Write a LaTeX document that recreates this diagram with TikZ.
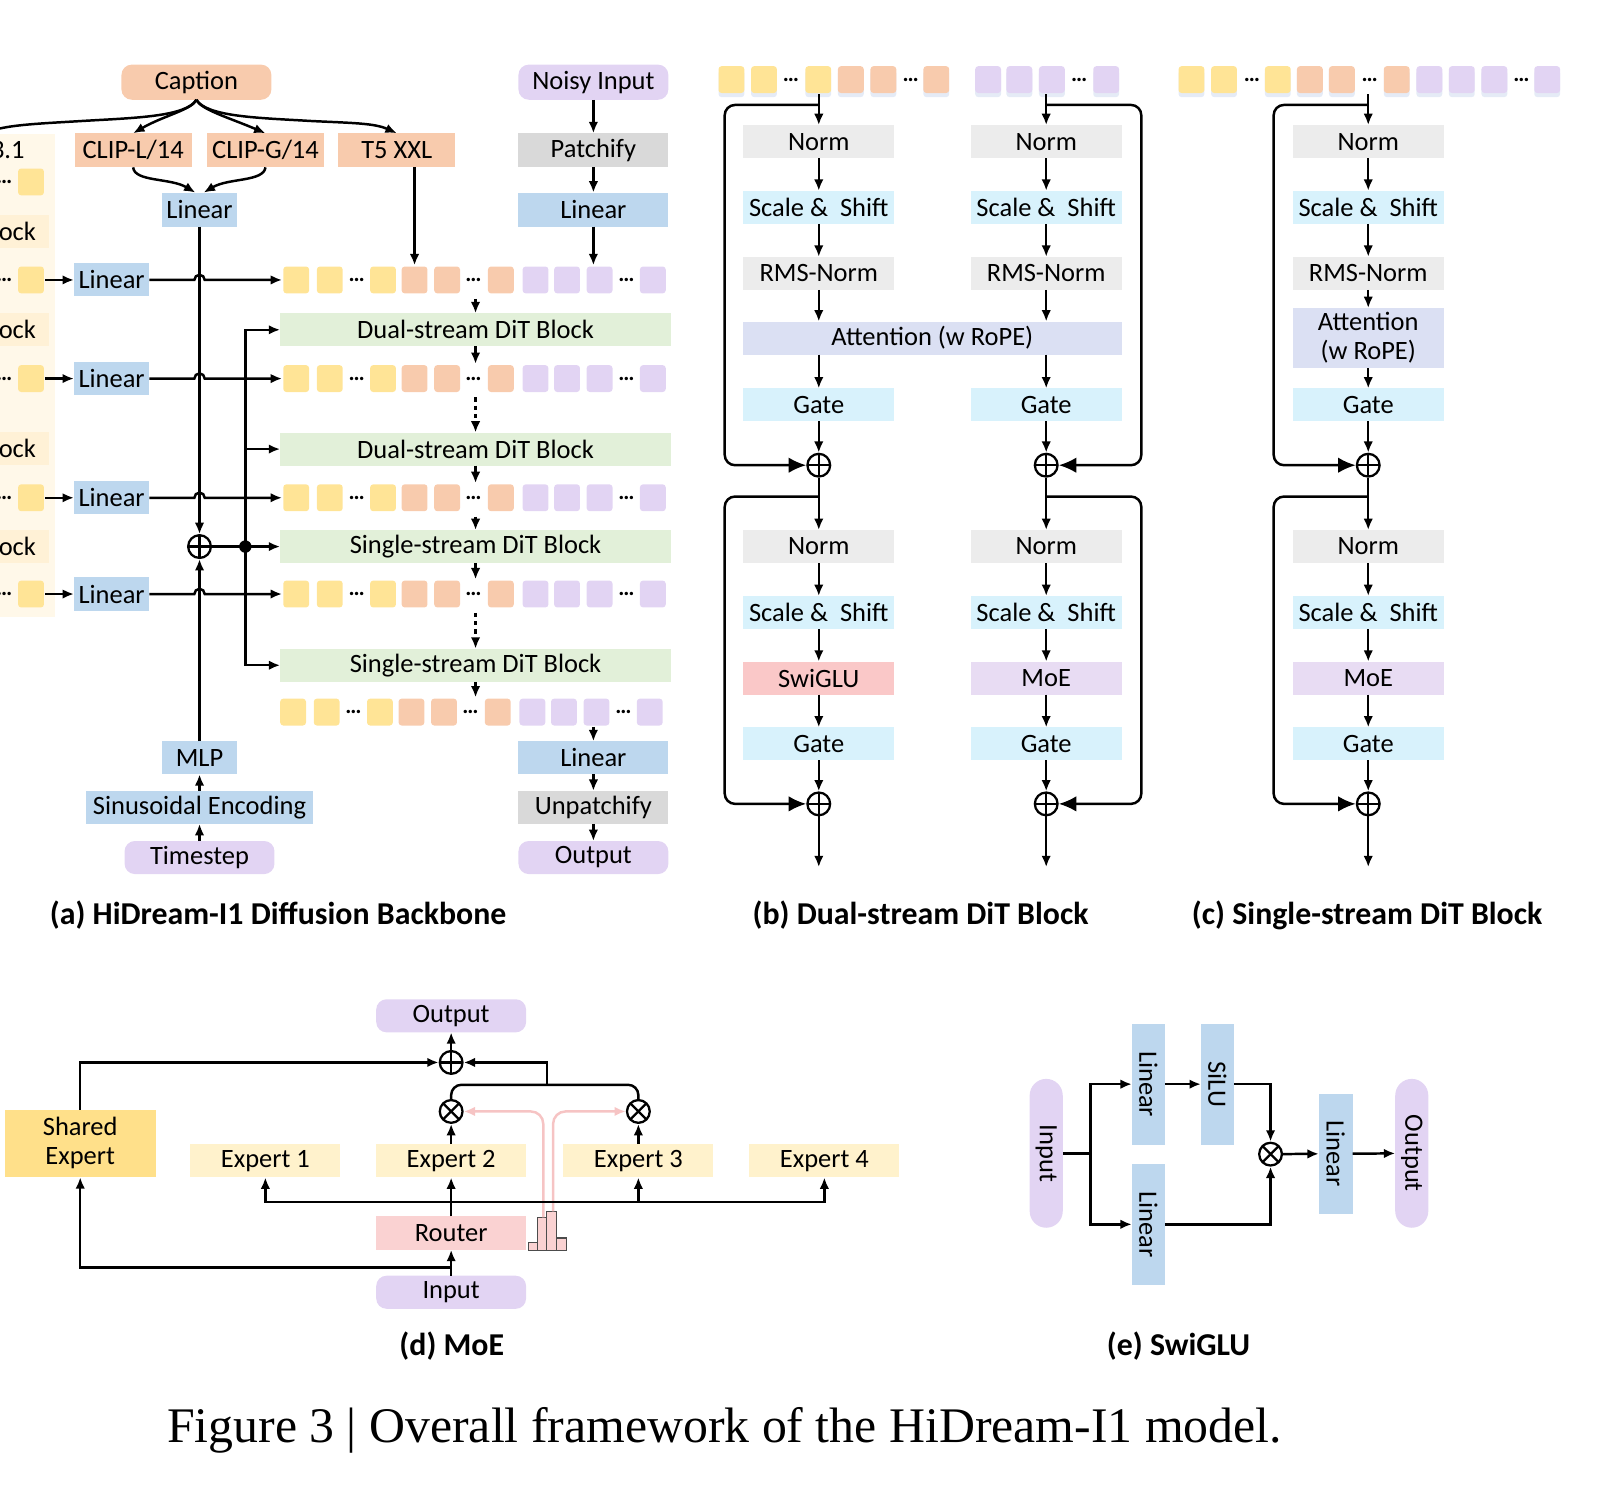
\documentclass[tikz,border=0pt]{standalone}
\usepackage{fontspec}
\usepackage{graphicx}
\setmainfont{Carlito}
\newfontfamily\capfont{Liberation Serif}
\usetikzlibrary{arrows.meta,calc,shadows}
\definecolor{cPeach}{RGB}{248,203,173}
\definecolor{cLav}{RGB}{226,212,243}
\definecolor{cBlue}{RGB}{189,215,238}
\definecolor{cGray}{RGB}{217,217,217}
\definecolor{cGreen}{RGB}{226,240,217}
\definecolor{cYel}{RGB}{255,228,150}
\definecolor{cNorm}{RGB}{236,236,236}
\definecolor{cCyan}{RGB}{216,242,252}
\definecolor{cAttn}{RGB}{219,224,243}
\definecolor{cSwi}{RGB}{250,200,200}
\definecolor{cMoe}{RGB}{232,220,243}
\definecolor{cShared}{RGB}{255,224,138}
\definecolor{cExp}{RGB}{255,242,204}
\definecolor{cRouter}{RGB}{250,210,210}
\definecolor{cCream}{RGB}{255,248,233}
\definecolor{cCreamB}{RGB}{255,241,214}
\definecolor{cPinkLine}{RGB}{246,196,196}
\definecolor{cShadow}{RGB}{170,190,225}
\newcommand{\lbl}{\fontsize{12.8}{14}\selectfont}
\newcommand{\subcap}{\fontsize{15.4}{17}\selectfont\bfseries}
\newcommand{\dotfont}{\fontsize{11}{11}\selectfont\bfseries}
\tikzset{
  >={Latex[length=5.5pt,width=4.6pt]},
  big/.style={-{Latex[length=8.5pt,width=7.5pt]}},
  bx/.style={rectangle, inner sep=0pt, outer sep=0pt, font=\lbl, text=black, align=center},
  sz/.style 2 args={minimum width=#1*0.5pt, minimum height=#2*0.5pt},
  pill/.style={bx, rounded corners=5pt},
  pillv/.style={bx, rounded corners=8pt},
  tok/.style={rectangle, rounded corners=1.5pt, minimum width=12.5pt, minimum height=13pt, inner sep=0pt},
  tokS/.style={tok, drop shadow={shadow xshift=0pt, shadow yshift=-2pt, opacity=0.3, fill=cShadow}},
  tdots/.style={font=\dotfont, inner sep=0pt},
  oplus/.style={circle, draw, line width=1.1pt, minimum size=11pt, inner sep=0pt, fill=white,
    path picture={\draw[line width=1.1pt] (path picture bounding box.north) -- (path picture bounding box.south) (path picture bounding box.west) -- (path picture bounding box.east);}},
  otimes/.style={circle, draw, line width=1.1pt, minimum size=11pt, inner sep=0pt, fill=white,
    path picture={\draw[line width=1.1pt] (path picture bounding box.north west) -- (path picture bounding box.south east) (path picture bounding box.south west) -- (path picture bounding box.north east);}},
}
% token row of panel (a)
\newcommand{\tokrowA}[2]{%
  \foreach \xx/\cc [count=\ii] in {286.5/cYel,319/cYel,370.5/cYel,401/cPeach,432.5/cPeach,484.5/cPeach,518/cLav,548.5/cLav,580/cLav,631.5/cLav}
    {\node[tok, fill=\cc] (#1-\ii) at (\xx,#2) {};}
  \foreach \xx in {345,458,606} {\node[tdots] at (\xx,#2) {…};}
}
\begin{document}
\begin{tikzpicture}[x=0.5pt,y=-0.5pt,line width=1.2pt]
\useasboundingbox (0,0) rectangle (1568,1449);
\clip (0,0) rectangle (1568,1449);

% ================= left cut-off panel =================
\fill[cCream] (-80,130) rectangle (53,597);
\node[font=\lbl, anchor=east, inner sep=0pt] (llama) at (25,145) {Llama 3.1};
\foreach \yy/\nm in {224/lb1,319/lb2,434/lb3,528.7/lb4} {
  \node[bx, fill=cCreamB, anchor=east, minimum height=16pt, minimum width=60pt] (\nm) at (47,\yy) {};
  \node[font=\lbl, anchor=east, inner sep=0pt] at (36,\yy) {Block};
}
\foreach \yy [count=\ii] in {176,270.8,366.2,481.5,574.6} {
  \node[tok, fill=cYel] (lt\ii) at (30,\yy) {};
  \node[tdots, anchor=east] at (13,\yy) {…};
}

% ================= panel (a) =================
\node[pill, fill=cPeach, sz={145}{34}] (cap) at (190,79.5) {Caption};
\node[pill, fill=cLav, sz={145}{34}] (noisy) at (574,79.5) {Noisy Input};
\node[bx, fill=cPeach, sz={113}{33}] (clipl) at (128.8,145.4) {CLIP-L/14};
\node[bx, fill=cPeach, sz={113}{33}] (clipg) at (256.8,145.4) {CLIP-G/14};
\node[bx, fill=cPeach, sz={113}{33}] (t5) at (383.8,145.4) {T5 XXL};
\node[bx, fill=cGray, sz={145}{33}] (patch) at (574,145.4) {Patchify};
\node[bx, fill=cBlue, sz={72}{33}] (linc) at (193,202.8) {Linear};
\node[bx, fill=cBlue, sz={145}{33}] (linx) at (574,202.8) {Linear};

\node[bx, fill=cGreen, sz={378}{32}] (d1) at (460,319) {Dual-stream DiT Block};
\node[bx, fill=cGreen, sz={378}{32}] (d2) at (460,434.4) {Dual-stream DiT Block};
\node[bx, fill=cGreen, sz={378}{32}] (s1) at (460,528.7) {Single-stream DiT Block};
\node[bx, fill=cGreen, sz={378}{32}] (s2) at (460,643.5) {Single-stream DiT Block};

\tokrowA{r1}{270.8}
\tokrowA{r2}{366.2}
\tokrowA{r3}{481.5}
\tokrowA{r4}{574.6}
\begin{scope}[xshift=-1.5pt]\tokrowA{r5}{688.8}\end{scope}

\foreach \yy [count=\ii] in {270.8,366.2,481.5,574.6}
  \node[bx, fill=cBlue, sz={73}{32}] (l\ii) at (108,\yy) {Linear};

\node[oplus] (ap) at (193,528.7) {};
\node[circle, fill=black, inner sep=0pt, minimum size=6pt] (dot) at (237.3,528.7) {};
\node[bx, fill=cBlue, sz={72}{32}] (mlp) at (193,733) {MLP};
\node[bx, fill=cBlue, sz={219}{32}] (sinus) at (193,781) {Sinusoidal Encoding};
\node[pill, fill=cLav, sz={145}{32}] (tstep) at (193,829.5) {Timestep};
\node[bx, fill=cBlue, sz={145}{32}] (lino) at (574,733) {Linear};
\node[bx, fill=cGray, sz={145}{32}] (unp) at (574,781) {Unpatchify};
\node[pill, fill=cLav, sz={145}{32}] (aout) at (574,829.5) {Output};

% caption fan
\draw[->] (cap.south) .. controls (186,106) and (158,112) .. (clipl.north);
\draw[->] (cap.south) .. controls (194,106) and (222,114) .. (clipg.north);
\draw[->] (cap.south) .. controls (200,113) and (250,114) .. (300,117) .. controls (340,119) and (362,119) .. (t5.north);
\draw[->] (cap.south) .. controls (180,113) and (130,114) .. (80,117) .. controls (30,120) and (0,121) .. (llama.north);
\draw[->] (clipl.south) .. controls (130,176) and (165,172) .. ([xshift=-2pt]linc.north);
\draw[->] (clipg.south) .. controls (255,176) and (221,172) .. ([xshift=2pt]linc.north);
\draw[->] (t5.south -| r1-4.north) -- (r1-4.north);
\draw[->] (noisy) -- (patch);
\draw[->] (patch) -- (linx);
\draw[->] (linx.south) -- (linx.south |- r1-9.north);

% left inputs
\foreach \ii/\jj in {1/2,2/3,3/4,4/5}
  \draw[->] (lt\jj.east) -- (l\ii.west);
\foreach \ii/\rr in {1/r1,2/r2,3/r3,4/r4}
  \draw[->] (l\ii.east) -- ($(ap.center |- l\ii.east)+(-2.5pt,0)$) arc[start angle=180,end angle=0,radius=2.5pt] -- (\rr-1.west);

% timestep / text vertical
\draw[->] (linc.south) -- (ap.north);
\draw[->] (mlp.north) -- (ap.south);
\draw[->] (sinus.north) -- (mlp.south);
\draw[->] (tstep.north) -- (sinus.south);
\draw[->] (ap.east) -- (s1.west);
\draw[<->] (d1.west) -- (d1.west -| dot) -- (s2.west -| dot) -- (s2.west);
\draw[->] (d2.west -| dot) -- (d2.west);

% main stream
\draw[->, shorten <=2pt] (d1.north |- r1-1.south) -- (d1.north);
\draw[->] (d1.south) -- (d1.south |- r2-1.north);
\draw[->, shorten <=2pt, dash pattern=on 2pt off 2pt] (d1.north |- r2-1.south) -- (d2.north);
\draw[->] (d2.south) -- (d2.south |- r3-1.north);
\draw[->, shorten <=2pt] (s1.north |- r3-1.south) -- (s1.north);
\draw[->] (s1.south) -- (s1.south |- r4-1.north);
\draw[->, shorten <=2pt, dash pattern=on 2pt off 2pt] (s1.north |- r4-1.south) -- (s2.north);
\draw[->] (s2.south) -- (s2.south |- r5-1.north);
\draw[->] (lino.north |- r5-9.south) -- (lino.north);
\draw[->] (lino) -- (unp);
\draw[->] (unp) -- (aout);

% ================= panel (b) =================
\foreach \xx/\cc [count=\ii] in {707.5/cYel,739/cYel,791.5/cYel,823/cPeach,854.5/cPeach,905.7/cPeach,955.8/cLav,986/cLav,1017.5/cLav,1070/cLav}
  {\node[tokS, fill=\cc] (bt-\ii) at (\xx,77) {};}
\foreach \xx in {765,881,1044} {\node[tdots] at (\xx,77) {…};}

\foreach \cx/\nm in {792/b1,1012/b2} {
  \node[bx, fill=cNorm, sz={146}{32}] (\nm n) at (\cx,137) {Norm};
  \node[bx, fill=cCyan, sz={146}{32}] (\nm s) at (\cx,200.5) {Scale \&~ Shift};
  \node[bx, fill=cNorm, sz={146}{32}] (\nm r) at (\cx,264.4) {RMS-Norm};
  \node[bx, fill=cCyan, sz={146}{32}] (\nm g) at (\cx,391.7) {Gate};
  \node[oplus] (\nm p) at (\cx,450) {};
  \node[bx, fill=cNorm, sz={146}{32}] (\nm n2) at (\cx,528.7) {Norm};
  \node[bx, fill=cCyan, sz={146}{32}] (\nm s2) at (\cx,592.5) {Scale \&~ Shift};
  \node[bx, fill=cCyan, sz={146}{32}] (\nm g2) at (\cx,719.6) {Gate};
  \node[oplus] (\nm p2) at (\cx,777.6) {};
  \coordinate (\nm end) at (\cx,838.8);
  \coordinate (\nm ta) at (\cx,101.5);
  \coordinate (\nm tb) at (\cx,480.3);
}
\node[bx, fill=cAttn, sz={366.4}{32}] (battn) at (901.8,327) {Attention (w RoPE)};
\node[bx, fill=cSwi, sz={146}{32}] (b1f) at (792,656) {SwiGLU};
\node[bx, fill=cMoe, sz={146}{32}] (b2f) at (1012,656) {MoE};

\draw[->] (b1n.north |- bt-3.south) -- (b1n.north);
\draw[->] (b2n.north |- bt-9.south) -- (b2n.north);
\foreach \nm in {b1,b2} {
  \draw[->] (\nm n) -- (\nm s);
  \draw[->] (\nm s) -- (\nm r);
  \draw[->] (\nm r.south) -- (\nm r.south |- battn.north);
  \draw[->] (battn.south -| \nm g) -- (\nm g.north);
  \draw[->] (\nm g) -- (\nm p);
  \draw[->] (\nm p) -- (\nm n2);
  \draw[->] (\nm n2) -- (\nm s2);
  \draw[->] (\nm s2) -- (\nm f);
  \draw[->] (\nm f) -- (\nm g2);
  \draw[->] (\nm g2) -- (\nm p2);
  \draw[->] (\nm p2.south) -- (\nm end);
}
\draw[big, rounded corners=5pt] (b1ta) -- (701,101.5) -- (701,450) -- (b1p.west);
\draw[big, rounded corners=5pt] (b1tb) -- (701,480.3) -- (701,777.6) -- (b1p2.west);
\draw[big, rounded corners=5pt] (b2ta) -- (1104,101.5) -- (1104,450) -- (b2p.east);
\draw[big, rounded corners=5pt] (b2tb) -- (1104,480.3) -- (1104,777.6) -- (b2p2.east);

% ================= panel (c) =================
\foreach \xx/\cc [count=\ii] in {1152.5/cYel,1184/cYel,1236/cYel,1267/cPeach,1298/cPeach,1351/cPeach,1382.6/cLav,1414/cLav,1445.5/cLav,1496.6/cLav}
  {\node[tokS, fill=\cc] (ct-\ii) at (\xx,77) {};}
\foreach \xx in {1211,1325,1471.6} {\node[tdots] at (\xx,77) {…};}
\node[bx, fill=cNorm, sz={146}{32}] (cn) at (1323.5,137) {Norm};
\node[bx, fill=cCyan, sz={146}{32}] (cs) at (1323.5,200.5) {Scale \&~ Shift};
\node[bx, fill=cNorm, sz={146}{32}] (cr) at (1323.5,264.4) {RMS-Norm};
\node[bx, fill=cAttn, sz={146}{58}] (ca) at (1323.5,327) {Attention\\(w RoPE)};
\node[bx, fill=cCyan, sz={146}{32}] (cg) at (1323.5,391.7) {Gate};
\node[oplus] (cp) at (1323.5,450) {};
\node[bx, fill=cNorm, sz={146}{32}] (cn2) at (1323.5,528.7) {Norm};
\node[bx, fill=cCyan, sz={146}{32}] (cs2) at (1323.5,592.5) {Scale \&~ Shift};
\node[bx, fill=cMoe, sz={146}{32}] (cm) at (1323.5,656) {MoE};
\node[bx, fill=cCyan, sz={146}{32}] (cg2) at (1323.5,719.6) {Gate};
\node[oplus] (cp2) at (1323.5,777.6) {};
\coordinate (cend) at (1323.5,838.8);
\coordinate (cta) at (1323.5,101.5);
\coordinate (ctb) at (1323.5,480.3);
\draw[->] (cn.north |- ct-1.south) -- (cn.north);
\draw[->] (cn) -- (cs);
\draw[->] (cs) -- (cr);
\draw[->] (cr) -- (ca);
\draw[->] (ca) -- (cg);
\draw[->] (cg) -- (cp);
\draw[->] (cp) -- (cn2);
\draw[->] (cn2) -- (cs2);
\draw[->] (cs2) -- (cm);
\draw[->] (cm) -- (cg2);
\draw[->] (cg2) -- (cp2);
\draw[->] (cp2.south) -- (cend);
\draw[big, rounded corners=5pt] (cta) -- (1232,101.5) -- (1232,450) -- (cp.west);
\draw[big, rounded corners=5pt] (ctb) -- (1232,480.3) -- (1232,777.6) -- (cp2.west);

% sub captions
\node[font=\subcap] (capa) at (269,885) {(a) HiDream-I1 Diffusion Backbone};
\node[font=\subcap] (capb) at (890.5,885) {(b) Dual-stream DiT Block};
\node[font=\subcap] (capc) at (1322.5,885) {(c) Single-stream DiT Block};

% ================= panel (d) MoE =================
\node[pill, fill=cLav, sz={145}{32}] (mout) at (436.4,982.6) {Output};
\node[oplus] (mplus) at (436.4,1027.7) {};
\node[bx, fill=cShared, sz={146}{65.5}] (shared) at (77.6,1106) {Shared\\Expert};
\node[bx, fill=cExp, sz={145}{32.3}] (e1) at (256.7,1122.8) {Expert 1};
\node[bx, fill=cExp, sz={145}{32.3}] (e2) at (436.4,1122.8) {Expert 2};
\node[bx, fill=cExp, sz={145}{32.3}] (e3) at (617.5,1122.8) {Expert 3};
\node[bx, fill=cExp, sz={145}{32.3}] (e4) at (797.4,1122.8) {Expert 4};
\node[bx, fill=cRouter, sz={145}{32.3}] (router) at (436.4,1192.8) {Router};
\node[pill, fill=cLav, sz={145}{32}] (min) at (436.4,1250) {Input};
\node[otimes] (m2) at (436.4,1075.1) {};
\node[otimes] (m3) at (617.5,1075.1) {};
\coordinate (hl) at (0,1162.5);
\coordinate (il) at (436.4,1226);
\coordinate (mj) at (529,1049.3);
\coordinate (h2) at (525.5,1177.6);
\coordinate (h3) at (535,1171.8);

% histogram
\foreach \xa/\xb/\yt in {511/519.7/1201.5,519.7/528.7/1177.6,528.7/538.4/1171.8,538.4/548/1197.6}
  \draw[fill=cRouter, draw=black!70, line width=0.6pt] (\xa,\yt) rectangle (\xb,1209.9);
\draw[cPinkLine, line width=1.2pt, rounded corners=6pt, -{Latex[length=5.5pt,width=4.6pt]}] (h2) |- (m2.east);
\draw[cPinkLine, line width=1.2pt, rounded corners=6pt, -{Latex[length=5.5pt,width=4.6pt]}] (h3) |- (m3.west);

\draw[->] (mplus) -- (mout);
\draw[->] (shared.north) |- (mplus.west);
\draw[rounded corners=5pt] (m2.north) |- (mj) -| (m3.north);
\draw[->] (mj) |- (mplus.east);
\draw[->] (e2) -- (m2);
\draw[->] (e3) -- (m3);
\draw[->] (router) -- (e2);
\draw[<->] (e1.south) -- (e1.south |- hl) -- (e4.south |- hl) -- (e4.south);
\draw[->] (e3.south |- hl) -- (e3.south);
\draw[->] (min) -- (router);
\draw[->] (il) -| (shared.south);
\node[font=\subcap] (capd) at (437,1302) {(d) MoE};

% ================= panel (e) SwiGLU =================
\node[pillv, fill=cLav, sz={32}{144}] (sin) at (1012,1115.6) {\rotatebox{-90}{Input}};
\node[bx, fill=cBlue, sz={32}{117}] (sl1) at (1110.8,1048.7) {\rotatebox{-90}{Linear}};
\node[bx, fill=cBlue, sz={32}{117}] (ssilu) at (1177.6,1048.7) {\rotatebox{-90}{SiLU}};
\node[bx, fill=cBlue, sz={32}{117}] (sl2) at (1110.8,1184.3) {\rotatebox{-90}{Linear}};
\node[otimes] (sx) at (1229,1116.4) {};
\node[bx, fill=cBlue, sz={32.6}{116.4}] (sl3) at (1292,1116) {\rotatebox{-90}{Linear}};
\node[pillv, fill=cLav, sz={32}{144}] (sout) at (1365.6,1115.6) {\rotatebox{-90}{Output}};
\coordinate (sf) at (1055,1115.6);
\draw (sin.east) -- (sf);
\draw[<->] (sl1.west) -| (sf) |- (sl2.west);
\draw[->] (sl1) -- (ssilu);
\draw[->] (ssilu.east) -| (sx.north);
\draw[->] (sl2.east) -| (sx.south);
\draw[->] (sx) -- (sl3);
\draw[->] (sl3) -- (sout);
\node[font=\subcap] (cape) at (1140,1302) {(e) SwiGLU};

% ================= figure caption =================
\node[anchor=base west, inner sep=0pt] (figcap) at (160.5,1395.6) {\resizebox{539pt}{!}{\capfont Figure 3 | Overall framework of the HiDream-I1 model.}};
\end{tikzpicture}
\end{document}
